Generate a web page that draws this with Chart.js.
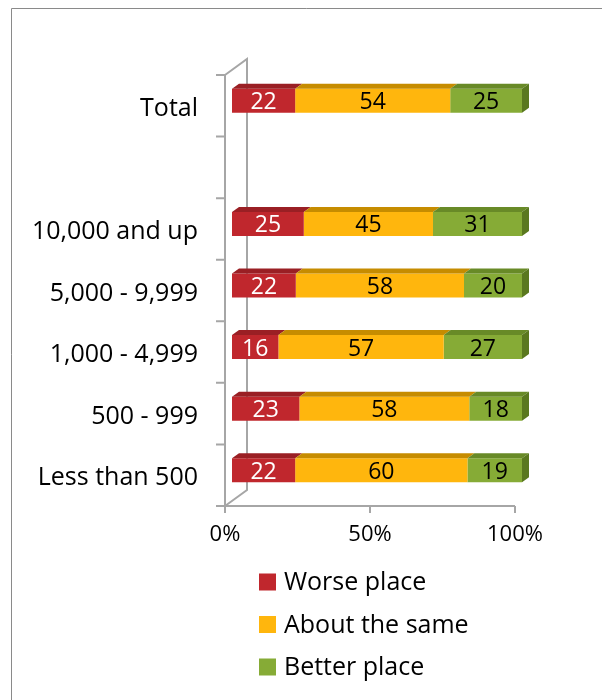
<!DOCTYPE html>
<html>
<head>
<meta charset="utf-8">
<script src="https://cdn.jsdelivr.net/npm/chart.js@4.4.1/dist/chart.umd.min.js"></script>
<style>
    html, body { margin: 0; padding: 0; background: #fff; }
    canvas { display: block; }
</style>
</head>
<body>
<canvas id="chart-place" width="602" height="700"></canvas>
<script>
// rows from top to bottom, the empty one is the gap under Total
var groups = ['Total', '', '10,000 and up', '5,000 - 9,999', '1,000 - 4,999', '500 - 999', 'Less than 500'];
var worse = [22, null, 25, 22, 16, 23, 22];
var same = [54, null, 45, 58, 57, 58, 60];
var better = [25, null, 31, 20, 27, 18, 19];
var seriesNames = ['Worse place', 'About the same', 'Better place'];
var xTicks = [0, 50, 100];

var frontColors = ['#c0272d', '#ffb60d', '#86ab36'];
var topColors = ['#9a1f24', '#c68c00', '#688a27'];
var sideColor = '#5a781f';
var labelColors = ['#ffffff', '#000000', '#000000'];

// each row is shown as a share of its own total (100% stacked)
var totals = groups.map(function (g, i) {
    return worse[i] == null ? null : worse[i] + same[i] + better[i];
});
function share(arr) {
    return arr.map(function (v, i) { return v == null ? null : v / totals[i] * 100; });
}
var raw = [worse, same, better];

// depth of the bars and of the wall behind them
var BAR_DX = 7, BAR_DY = 5;
var WALL_DX = 22, WALL_DY = 16;

var frame3d = {
    id: 'frame3d',
    beforeDraw: function (chart) {
        var ctx = chart.ctx;
        ctx.save();
        ctx.strokeStyle = '#8a8a8a';
        ctx.lineWidth = 1;
        ctx.beginPath();
        ctx.moveTo(11.5, chart.height);
        ctx.lineTo(11.5, 8.5);
        ctx.lineTo(chart.width, 8.5);
        ctx.stroke();
        ctx.restore();
    },
    beforeDatasetsDraw: function (chart) {
        var ctx = chart.ctx, xs = chart.scales.x, ys = chart.scales.y;
        var l = xs.left, r = xs.right, t = ys.top, b = ys.bottom;
        var step = (b - t) / groups.length;
        ctx.save();
        ctx.strokeStyle = '#a6a6a6';
        ctx.lineWidth = 2;
        ctx.beginPath();
        ctx.moveTo(l, t); ctx.lineTo(l, b + 7);
        ctx.moveTo(l - 9, b); ctx.lineTo(r, b);
        ctx.moveTo(l, t); ctx.lineTo(l + WALL_DX, t - WALL_DY);
        ctx.lineTo(l + WALL_DX, b - WALL_DY); ctx.lineTo(l, b);
        for (var i = 0; i < groups.length; i++) {
            var y = ys.getPixelForValue(i) - step / 2;
            ctx.moveTo(l - 9, y); ctx.lineTo(l, y);
        }
        xTicks.forEach(function (v) {
            var x = xs.getPixelForValue(v);
            ctx.moveTo(x, b); ctx.lineTo(x, b + 7);
        });
        ctx.stroke();
        ctx.restore();
        // bars sit a little behind the front axis
        ctx.save();
        ctx.translate(BAR_DX, -BAR_DY);
    },
    afterDatasetsDraw: function (chart) {
        var ctx = chart.ctx;
        var last = chart.data.datasets.length - 1;
        chart.data.datasets.forEach(function (ds, di) {
            chart.getDatasetMeta(di).data.forEach(function (bar, i) {
                if (raw[di][i] == null) return;
                var p = bar.getProps(['x', 'y', 'base', 'height'], true);
                var x0 = Math.min(p.base, p.x), x1 = Math.max(p.base, p.x);
                var top = p.y - p.height / 2, bottom = p.y + p.height / 2;
                ctx.fillStyle = topColors[di];
                ctx.beginPath();
                ctx.moveTo(x0, top); ctx.lineTo(x1, top);
                ctx.lineTo(x1 + BAR_DX, top - BAR_DY); ctx.lineTo(x0 + BAR_DX, top - BAR_DY);
                ctx.closePath(); ctx.fill();
                if (di === last) {
                    ctx.fillStyle = sideColor;
                    ctx.beginPath();
                    ctx.moveTo(x1, top); ctx.lineTo(x1 + BAR_DX, top - BAR_DY);
                    ctx.lineTo(x1 + BAR_DX, bottom - BAR_DY); ctx.lineTo(x1, bottom);
                    ctx.closePath(); ctx.fill();
                }
                ctx.fillStyle = labelColors[di];
                ctx.font = '23px "Open Sans"';
                ctx.textAlign = 'center';
                ctx.textBaseline = 'middle';
                ctx.fillText(String(raw[di][i]), (x0 + x1) / 2, p.y + 2);
            });
        });
        ctx.restore();
    },
    afterDraw: function (chart) {
        // legend stacked one entry per line under the axis
        var ctx = chart.ctx;
        ctx.save();
        ctx.font = '25px "Open Sans"';
        ctx.textBaseline = 'middle';
        ctx.textAlign = 'left';
        chart.data.datasets.forEach(function (ds, di) {
            var cy = 582 + di * 42.5;
            ctx.fillStyle = ds.backgroundColor;
            ctx.fillRect(259, cy - 8.5, 17, 17);
            ctx.fillStyle = '#000';
            ctx.fillText(ds.label, 284, cy + 1);
        });
        ctx.restore();
    }
};

var ctx = document.getElementById('chart-place').getContext('2d');
var chart = new Chart(ctx, {
    type: 'bar',
    data: {
        labels: groups,
        datasets: [0, 1, 2].map(function (k) {
            return {
                label: seriesNames[k],
                data: share(raw[k]),
                backgroundColor: frontColors[k],
                borderWidth: 0,
                barPercentage: 1,
                categoryPercentage: 0.39,
                clip: false
            };
        })
    },
    options: {
        indexAxis: 'y',
        responsive: false,
        animation: false,
        layout: { padding: { left: 0, right: 87, top: 75, bottom: 0 } },
        plugins: {
            legend: { display: false },
            tooltip: { enabled: false }
        },
        scales: {
            x: {
                stacked: true,
                min: 0,
                max: 100,
                afterBuildTicks: function (scale) {
                    scale.ticks = xTicks.map(function (v) { return { value: v }; });
                },
                afterFit: function (scale) { scale.height = 194; },
                grid: { display: false, drawTicks: false },
                border: { display: false },
                ticks: {
                    padding: 16,
                    color: '#000',
                    font: { family: 'Open Sans', size: 22 },
                    maxRotation: 0,
                    callback: function (v) { return v + '%'; }
                }
            },
            y: {
                stacked: true,
                afterFit: function (scale) { scale.width = 225; },
                grid: { display: false, drawTicks: false },
                border: { display: false },
                ticks: {
                    padding: 27,
                    labelOffset: 3,
                    color: '#000',
                    font: { family: 'Open Sans', size: 25 },
                    autoSkip: false
                }
            }
        }
    },
    plugins: [frame3d]
});
</script>
</body>
</html>
